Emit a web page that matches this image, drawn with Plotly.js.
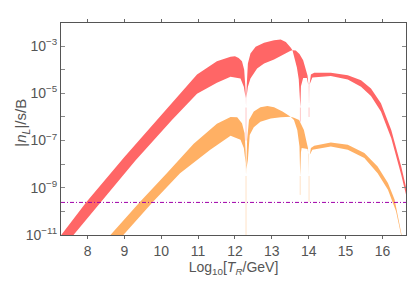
<!DOCTYPE html>
<html>
<head>
<meta charset="utf-8">
<script src="https://cdn.plot.ly/plotly-3.0.1.min.js"></script>
<style>html,body{margin:0;padding:0;background:#fff;}#chart{width:409px;height:281px;}</style>
</head>
<body>
<div id="chart"></div>
<script>
// ---- data (log10 T_R in GeV, log10 |n_L|/s/B) ----
const redUpperT = [7.10, 7.29, 7.97, 9.00, 9.88, 10.50, 10.97, 11.51, 11.88, 12.00, 12.10, 12.19, 12.25, 12.285, 12.30, 12.315, 12.35, 12.42, 12.56, 12.79, 13.06, 13.24, 13.38, 13.51, 13.56, 13.65, 13.75, 13.85, 13.92, 13.97, 13.995, 14.01, 14.025, 14.06, 14.15, 14.60, 15.06, 15.42, 15.69, 15.96, 16.24, 16.51, 16.72];
const redUpperY = [-11.38, -10.98, -9.60, -7.70, -6.13, -5.00, -4.20, -3.64, -3.45, -3.43, -3.50, -3.64, -4.00, -4.80, -5.60, -4.80, -3.74, -3.31, -3.03, -2.86, -2.75, -2.72, -2.82, -3.06, -3.17, -3.19, -3.33, -3.60, -3.95, -4.25, -4.70, -5.60, -4.60, -4.20, -4.13, -4.13, -4.23, -4.44, -4.79, -5.42, -6.55, -8.10, -9.50];
const redLowerT = [7.50, 7.63, 8.35, 9.30, 10.29, 10.97, 11.51, 11.88, 12.15, 12.24, 12.29, 12.30, 12.31, 12.35, 12.42, 12.60, 12.79, 13.06, 13.33, 13.51, 13.56, 13.62, 13.68, 13.73, 13.76, 13.775, 13.79, 13.85, 13.95, 13.99, 14.01, 14.03, 14.10, 14.60, 15.06, 15.42, 15.69, 15.96, 16.24, 16.51, 16.72];
const redLowerY = [-11.26, -10.98, -9.60, -7.84, -6.13, -5.02, -4.55, -4.30, -4.37, -4.72, -5.20, -5.60, -5.20, -4.72, -4.37, -3.95, -3.74, -3.57, -3.36, -3.20, -3.17, -3.50, -3.90, -4.40, -5.00, -5.60, -4.70, -4.35, -4.35, -4.65, -5.60, -4.60, -4.33, -4.27, -4.41, -4.72, -5.11, -5.77, -6.90, -8.45, -9.80];

const orangeUpperT = [8.45, 8.63, 9.42, 10.15, 10.88, 11.51, 11.88, 12.06, 12.19, 12.26, 12.29, 12.30, 12.31, 12.33, 12.38, 12.51, 12.69, 12.88, 13.06, 13.29, 13.51, 13.60, 13.74, 13.87, 13.95, 13.98, 14.01, 14.03, 14.06, 14.15, 14.60, 15.06, 15.51, 15.87, 16.15, 16.33, 16.51, 16.62];
const orangeUpperY = [-11.30, -10.98, -9.60, -8.38, -7.14, -6.29, -6.00, -6.01, -6.27, -6.69, -7.50, -8.50, -7.50, -6.97, -6.13, -5.77, -5.59, -5.54, -5.59, -5.77, -5.99, -6.03, -6.13, -6.55, -7.11, -7.32, -8.50, -7.60, -7.32, -7.22, -7.08, -7.18, -7.53, -8.10, -8.80, -9.50, -10.91, -11.80];
const orangeLowerT = [8.80, 8.99, 9.77, 10.51, 10.88, 11.33, 11.88, 12.15, 12.24, 12.29, 12.30, 12.31, 12.35, 12.40, 12.51, 12.69, 12.97, 13.24, 13.51, 13.60, 13.69, 13.75, 13.77, 13.79, 13.81, 13.97, 13.995, 14.01, 14.03, 14.10, 14.60, 15.06, 15.51, 15.87, 16.15, 16.37, 16.55];
const orangeLowerY = [-11.30, -10.98, -9.60, -8.38, -7.95, -7.39, -6.80, -6.97, -7.32, -7.95, -8.50, -8.20, -7.81, -6.76, -6.44, -6.20, -6.06, -6.01, -5.99, -6.13, -6.55, -7.25, -8.50, -7.50, -7.32, -7.36, -7.60, -8.50, -7.60, -7.39, -7.25, -7.39, -7.74, -8.38, -9.08, -9.99, -11.30];

// faint tails of the zero crossings: position, start depth, end depth
const redDipT = [12.30, 13.775, 14.01];
const redDipFrom = [-5.60, -5.60, -5.60];
const redDipTo = [-7.0, -6.2, -6.0];
const orangeDipT = [12.30, 13.77, 14.01];
const orangeDipFrom = [-8.50, -8.50, -8.50];
const orangeDipTo = [-11.0, -9.3, -9.6];

const thresholdValue = 2.4e-10;
const xRange = [7.28, 16.64];
const yRangeLog = [-11, -2.02];
const yTickExp = [-11, -10, -9, -8, -7, -6, -5, -4, -3];
const xTickVals = [8, 9, 10, 11, 12, 13, 14, 15, 16];
const yTitleText = '|<i>n</i><sub><i>L</i></sub>|/s/B';
const xTitleText = 'Log<sub>10</sub>[<i>T</i><sub><i>R</i></sub>/GeV]';

const redColor = 'rgb(255,102,102)';
const orangeColor = 'rgb(255,176,100)';

const p = v => Math.pow(10, v);

function band(uT, uY, lT, lY, color) {
  const x = uT.concat(lT.slice().reverse());
  const y = uY.concat(lY.slice().reverse()).map(p);
  return {x: x, y: y, type: 'scatter', mode: 'lines', fill: 'toself', fillcolor: color,
          line: {width: 0, color: color}, hoverinfo: 'skip', showlegend: false};
}
function tails(tArr, fromArr, toArr, color) {
  const x = [], y = [];
  tArr.forEach((t, i) => { x.push(t, t, null); y.push(p(fromArr[i]), p(toArr[i]), null); });
  return {x: x, y: y, type: 'scatter', mode: 'lines', line: {width: 1, color: color},
          opacity: 0.35, hoverinfo: 'skip', showlegend: false};
}

const traces = [
  band(redUpperT, redUpperY, redLowerT, redLowerY, redColor),
  tails(redDipT, redDipFrom, redDipTo, redColor),
  band(orangeUpperT, orangeUpperY, orangeLowerT, orangeLowerY, orangeColor),
  tails(orangeDipT, orangeDipFrom, orangeDipTo, orangeColor),
  {x: xRange, y: [thresholdValue, thresholdValue], type: 'scatter', mode: 'lines',
   line: {color: 'rgb(160,0,170)', width: 1, dash: '4px,2px,1px,2px'}, hoverinfo: 'skip', showlegend: false}
];

const grey = '#555555';
const layout = {
  width: 409, height: 281,
  margin: {l: 61, r: 3, t: 23, b: 46, pad: 0},
  paper_bgcolor: '#fff', plot_bgcolor: '#fff',
  font: {family: 'Liberation Sans, Arial, sans-serif', size: 14, color: grey},
  xaxis: {
    range: xRange, tickvals: xTickVals, ticktext: xTickVals.map(String),
    ticks: 'outside', ticklen: 3, tickcolor: '#666', mirror: 'ticks',
    showline: true, linecolor: '#555', linewidth: 1, showgrid: false, zeroline: false,
    tickfont: {size: 14, color: grey},
    title: {text: xTitleText, font: {size: 14, color: grey}, standoff: 3}
  },
  yaxis: {
    type: 'log', range: yRangeLog,
    tickvals: yTickExp.map(p),
    ticktext: yTickExp.map(e => (Math.abs(e) % 2 === 1) ? '10<sup>\u2212' + Math.abs(e) + '</sup>' : ''),
    ticks: 'inside', ticklen: 4, tickcolor: '#888', mirror: 'ticks',
    showline: true, linecolor: '#555', linewidth: 1, showgrid: false, zeroline: false,
    tickfont: {size: 14, color: grey}
  },
  annotations: [{
    text: yTitleText, textangle: -90, showarrow: false,
    xref: 'paper', yref: 'paper', x: -0.113, y: 0.53, xanchor: 'center', yanchor: 'middle',
    font: {size: 15, color: grey}
  }]
};

Plotly.newPlot('chart', traces, layout, {staticPlot: true, displayModeBar: false});
</script>
</body>
</html>
